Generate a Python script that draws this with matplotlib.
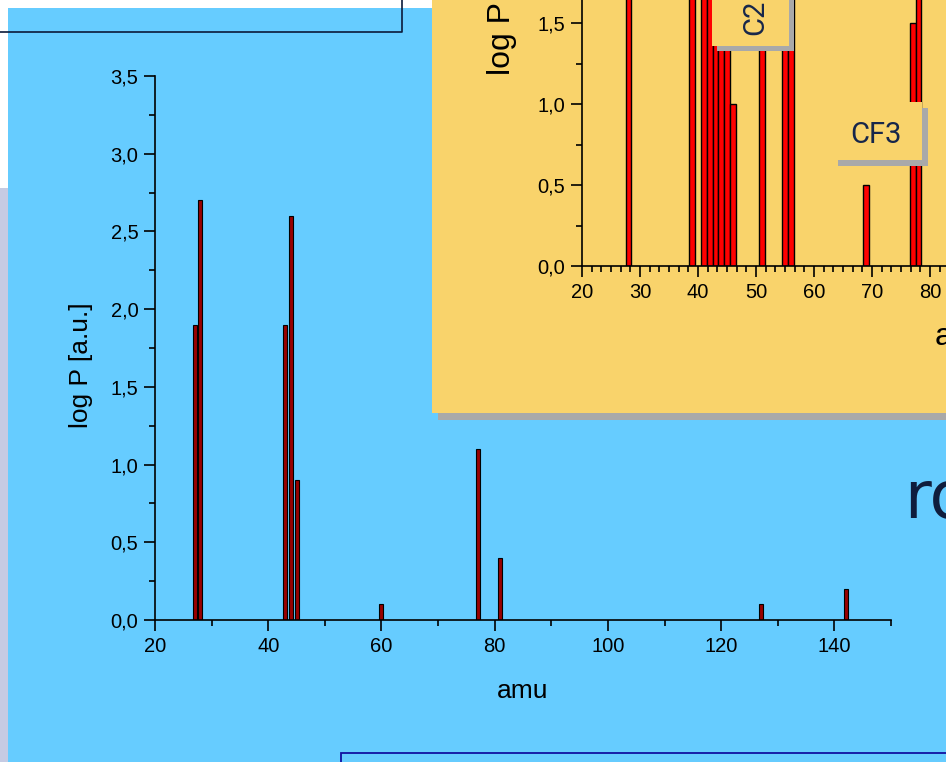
import matplotlib
matplotlib.use('Agg')
import matplotlib.pyplot as plt
from matplotlib.patches import Rectangle
from matplotlib.lines import Line2D
from matplotlib.ticker import MultipleLocator, AutoMinorLocator, FuncFormatter
from matplotlib import font_manager

# main spectrum
main_amu = [27, 28, 43, 44, 45, 60, 77, 81, 127, 142]
main_logp = [1.9, 2.7, 1.9, 2.6, 0.9, 0.1, 1.1, 0.4, 0.1, 0.2]

# inset spectrum (tall peaks run off the slide, their tops are guesses)
inset_amu = [28, 39, 41, 42, 43, 44, 45, 46, 51, 55, 56, 69, 77, 78]
inset_logp = [2.2, 2.4, 2.3, 2.0, 1.9, 2.1, 1.8, 1.0, 1.8, 1.9, 1.8, 0.5, 1.5, 2.0]

xlabel = 'amu'
ylabel = 'log P [a.u.]'

W, H = 946, 762
BLUE = '#66CCFF'
ORANGE = '#F9D36B'
GRAY = '#A9A9A9'
NAVY = '#17264A'

names = {f.name for f in font_manager.fontManager.ttflist}
narrow = 'Liberation Sans Narrow' if 'Liberation Sans Narrow' in names else 'Roboto'
plt.rcParams['font.family'] = ['Liberation Sans', 'DejaVu Sans']


def fx(px):
    return px / W


def fy(py):
    return 1 - py / H


def comma(v, pos):
    return f"{v:.1f}".replace('.', ',')


def slide_rect(x0, y0, x1, y1, z, **kw):
    r = Rectangle((fx(x0), fy(y1)), fx(x1) - fx(x0), fy(y0) - fy(y1),
                  transform=fig.transFigure, zorder=z, **kw)
    fig.add_artist(r)


def style_axes(ax):
    ax.patch.set_visible(False)
    ax.spines['top'].set_visible(False)
    ax.spines['right'].set_visible(False)
    for s in ['left', 'bottom']:
        ax.spines[s].set_linewidth(1.2)
    ax.yaxis.set_major_locator(MultipleLocator(0.5))
    ax.yaxis.set_minor_locator(MultipleLocator(0.25))
    ax.yaxis.set_major_formatter(FuncFormatter(comma))
    ax.tick_params(which='major', direction='out', length=8, width=1.2,
                   labelsize=14.5, pad=4, colors='black')
    ax.tick_params(which='minor', direction='out', length=4.5, width=1.2)


fig = plt.figure(figsize=(W / 100, H / 100), dpi=100, facecolor=BLUE)

# slide decorations
slide_rect(0, 0, 432, 8, -2, facecolor='white', edgecolor='none')
slide_rect(0, 0, 8, 188, -2, facecolor='white', edgecolor='none')
slide_rect(0, 188, 8, 762, -2, facecolor='#C5CBE3', edgecolor='none')
fig.add_artist(Line2D([fx(0), fx(402), fx(402)], [fy(32), fy(32), fy(0)],
                      transform=fig.transFigure, color='#0B1A3A', lw=1.2, zorder=-1))
slide_rect(341, 753, 980, 800, -1, facecolor='none', edgecolor='#1010A0', lw=1.3)

# main chart
ax = fig.add_axes([fx(155), fy(620), fx(891) - fx(155), fy(76) - fy(620)], zorder=0)
ax.bar(main_amu, main_logp, width=0.7, color='#990000', edgecolor='black', linewidth=0.8)
ax.set_xlim(20, 150)
ax.set_ylim(0, 3.5)
style_axes(ax)
ax.xaxis.set_major_locator(MultipleLocator(20))
ax.xaxis.set_minor_locator(MultipleLocator(10))
ax.set_xlabel(xlabel, fontsize=19)
ax.set_ylabel(ylabel, fontsize=19)
ax.xaxis.set_label_coords(0.5, -0.108)
ax.yaxis.set_label_coords(-0.084, 0.468)

# orange inset panel with shadow
slide_rect(438, 7, 960, 420, 1, facecolor=GRAY, edgecolor='none')
slide_rect(432, 0, 960, 413, 1, facecolor=ORANGE, edgecolor='none')

ix = fig.add_axes([fx(582), fy(266), (1336 - 582) / W, 567 / H], zorder=2)
ix.bar(inset_amu, inset_logp, width=1.0, color='red', edgecolor='black', linewidth=1.0)
ix.set_xlim(20, 150)
ix.set_ylim(0, 3.5)
style_axes(ix)
ix.xaxis.set_major_locator(MultipleLocator(10))
ix.xaxis.set_minor_locator(AutoMinorLocator(6))
ix.set_xlabel(xlabel, fontsize=23)
ix.set_ylabel(ylabel, fontsize=23)
ix.xaxis.set_label_coords(0.509, -0.099)
ix.yaxis.set_label_coords(-0.086, 0.472)

# label boxes
ix.add_patch(Rectangle((43.3, 1.327), 13.25, 2.2, facecolor=GRAY, edgecolor='none', zorder=3))
ix.add_patch(Rectangle((42.4, 1.36), 13.3, 2.2, facecolor=ORANGE, edgecolor='none', zorder=4))
ix.text(51.2, 1.426, 'C2', rotation=90, rotation_mode='anchor', ha='left', va='baseline',
        fontsize=21, color=NAVY, family=narrow, zorder=5)

ix.add_patch(Rectangle((64.1, 0.617), 15.5, 0.358, facecolor=GRAY, edgecolor='none', zorder=3))
ix.add_patch(Rectangle((63.1, 0.654), 15.5, 0.358, facecolor=ORANGE, edgecolor='none', zorder=4))
ix.text(70.7, 0.759, 'CF3', ha='center', va='baseline',
        fontsize=21, color=NAVY, family=narrow, zorder=5)

fig.text(fx(904), fy(518), 'ro', fontsize=47, color='#0F1D3D', family='DejaVu Sans',
         ha='left', va='baseline', zorder=3)

fig.savefig('out.png', dpi=100, facecolor=BLUE)
